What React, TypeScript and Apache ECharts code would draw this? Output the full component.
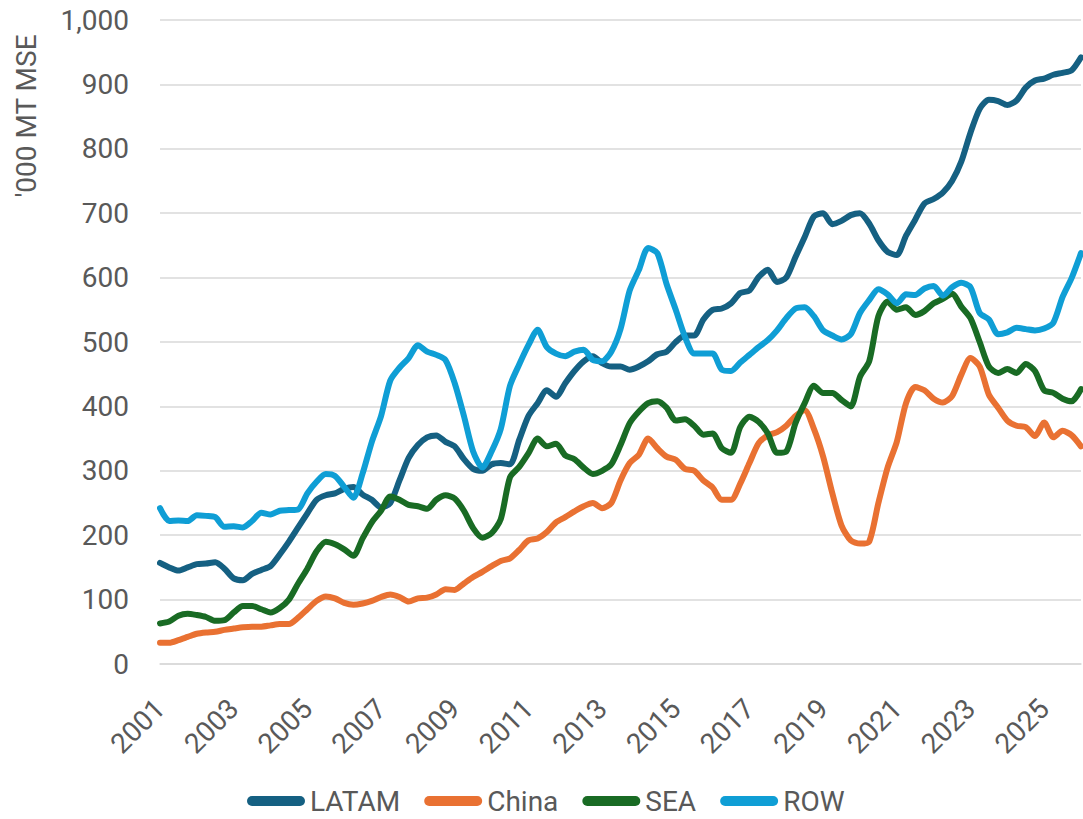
import React, { useEffect, useRef } from "react";
import * as echarts from "echarts";

// Quarterly observations, 2001 Q1 .. 2026 Q1
const years = [2001, 2002, 2003, 2004, 2005, 2006, 2007, 2008, 2009, 2010, 2011, 2012, 2013, 2014, 2015, 2016, 2017, 2018, 2019, 2020, 2021, 2022, 2023, 2024, 2025, 2026];
const quarters = ["Q1", "Q2", "Q3", "Q4"];
const categories: string[] = years.flatMap((y) => (y === 2026 ? [`${y} Q1`] : quarters.map((q) => `${y} ${q}`)));

const seriesNames = ["LATAM", "China", "SEA", "ROW"];

const latam = [
  157, 150, 145, 150,
  155, 156, 158, 148,
  133, 130, 140, 146,
  152, 170, 190, 212,
  234, 255, 262, 265,
  272, 275, 263, 255,
  243, 250, 285, 320,
  340, 352, 355, 345,
  338, 318, 303, 300,
  310, 312, 310, 348,
  385, 405, 425, 415,
  436, 455, 470, 478,
  467, 462, 462, 457,
  462, 470, 481, 485,
  500, 510, 510, 535,
  550, 552, 560, 576,
  580, 601, 612, 593,
  600, 632, 663, 695,
  700, 683, 688, 697,
  700, 684, 658, 640,
  635, 665, 690, 715,
  722, 732, 750, 780,
  825, 862, 876, 874,
  868, 875, 895, 906,
  909, 915, 918, 922,
  942,
];

const china = [
  33, 33, 37, 42,
  47, 49, 50, 53,
  55, 57, 58, 58,
  60, 62, 62, 72,
  85, 98, 105, 102,
  95, 92, 94, 98,
  104, 108, 104, 97,
  102, 103, 108, 116,
  115, 125, 135, 143,
  152, 160, 164, 177,
  192, 195, 205, 220,
  228, 237, 245, 250,
  242, 250, 285, 312,
  325, 350, 335, 322,
  317, 303, 300, 285,
  274, 255, 255, 280,
  312, 343, 355, 360,
  370, 385, 394, 365,
  322, 265, 215, 192,
  187, 190, 250, 305,
  345, 405, 430, 425,
  412, 406, 416, 449,
  475, 462, 418, 398,
  378, 370, 368, 354,
  375, 352, 362, 355,
  338,
];

const sea = [
  63, 66, 75, 78,
  76, 73, 67, 68,
  80, 90, 90, 85,
  80, 87, 100, 125,
  148, 175, 190, 186,
  178, 168, 195, 220,
  238, 260, 255, 247,
  245, 241, 255, 262,
  257, 238, 211, 196,
  203, 225, 290, 306,
  327, 350, 338, 342,
  324, 318, 305, 295,
  300, 310, 340, 374,
  392, 405, 408, 398,
  378, 380, 370, 356,
  358, 335, 328, 368,
  384, 376, 358, 328,
  330, 374, 405, 432,
  421, 421, 410, 400,
  446, 470, 540, 563,
  550, 554, 542, 548,
  560, 567, 575, 555,
  537, 500, 462, 452,
  458, 452, 466, 455,
  425, 421, 412, 408,
  427,
];

const row = [
  242, 222, 223, 222,
  231, 230, 228, 213,
  214, 212, 222, 235,
  232, 238, 239, 240,
  265, 283, 295, 292,
  275, 258, 296, 345,
  385, 440, 460, 475,
  495, 485, 480, 472,
  436, 385, 330, 305,
  330, 365, 432, 465,
  495, 519, 492, 482,
  478, 485, 488, 472,
  470, 485, 520, 580,
  612, 646, 638, 590,
  550, 508, 482, 482,
  482, 457, 455, 468,
  480, 492, 503, 518,
  537, 552, 554, 540,
  518, 510, 504, 512,
  545, 565, 582, 574,
  560, 574, 573, 583,
  587, 572, 585, 592,
  585, 545, 535, 512,
  515, 522, 520, 518,
  521, 530, 570, 600,
  638,
];

const seriesData = [latam, china, sea, row];
const colors = ["#156082", "#E97132", "#196B24", "#0F9ED5"];

const yMin = 0;
const yMax = 1000;
const yStep = 100;
const yAxisTitle = "'000 MT MSE";

const FONT = "Roboto, 'Noto Sans', Arial, sans-serif";
const TEXT = "#595959";
const FS = 28;

export default function App() {
  const ref = useRef<HTMLDivElement>(null);

  useEffect(() => {
    if (!ref.current) return;
    const chart = echarts.init(ref.current, undefined, { renderer: "svg" });
    chart.setOption({
      animation: false,
      backgroundColor: "#ffffff",
      grid: { left: 160, right: 2, top: 20, bottom: 155, containLabel: false },
      legend: {
        data: seriesNames,
        top: 786,
        left: 247,
        padding: 0,
        itemWidth: 58,
        itemHeight: 10,
        itemGap: 24,
        icon: "path://M5,0 H53 A5,5 0 0 1 53,10 H5 A5,5 0 0 1 5,0 Z",
        textStyle: { fontSize: FS, lineHeight: 30, color: TEXT, fontFamily: FONT },
      },
      xAxis: {
        type: "category",
        data: categories,
        boundaryGap: false,
        axisLine: { show: true, lineStyle: { color: "#d9d9d9", width: 1.5 } },
        axisTick: { show: false },
        splitLine: { show: false },
        axisLabel: {
          interval: (index: number) => index % 8 === 0,
          formatter: (v: string) => v.slice(0, 4),
          rotate: 45,
          margin: 40,
          fontSize: FS,
          color: TEXT,
          fontFamily: FONT,
        },
      },
      yAxis: {
        type: "value",
        min: yMin,
        max: yMax,
        interval: yStep,
        axisLine: { show: false },
        axisTick: { show: false },
        splitLine: { show: true, lineStyle: { color: "#d9d9d9", width: 1.5 } },
        axisLabel: {
          margin: 31,
          fontSize: FS,
          color: TEXT,
          fontFamily: FONT,
          formatter: (v: number) => v.toLocaleString("en-US"),
        },
      },
      graphic: [
        {
          type: "text",
          x: 26,
          y: 116,
          rotation: Math.PI / 2,
          style: {
            text: yAxisTitle,
            font: `${FS}px ${FONT}`,
            fill: TEXT,
            align: "center",
            verticalAlign: "middle",
          },
        },
      ],
      series: seriesNames.map((name, i) => ({
        name,
        type: "line",
        data: seriesData[i],
        showSymbol: false,
        symbol: "none",
        smooth: 0.25,
        lineStyle: { color: colors[i], width: 6, cap: "round", join: "round" },
        itemStyle: { color: colors[i] },
      })),
    });
    return () => chart.dispose();
  }, []);

  return (
    <div
      ref={ref}
      style={{ position: "fixed", left: 0, top: 0, width: 1083, height: 819, background: "#fff" }}
    />
  );
}
